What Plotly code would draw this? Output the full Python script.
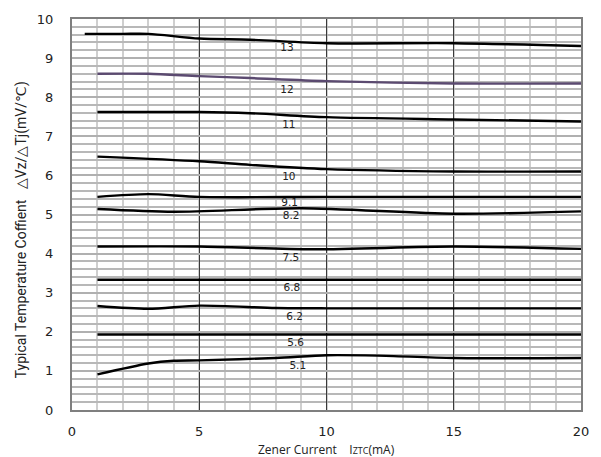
import plotly.graph_objects as go

# ---- data ----
series_names = ["13", "12", "11", "10", "9.1", "8.2", "7.5", "6.8", "6.2", "5.6", "5.1"]
x_13 = [0.5, 2, 3, 5, 7, 10, 15, 20]
y_13 = [9.62, 9.62, 9.62, 9.50, 9.47, 9.38, 9.38, 9.31]
x_12 = [1, 3, 5, 7, 10, 15, 20]
y_12 = [8.60, 8.60, 8.54, 8.49, 8.41, 8.35, 8.35]
x_11 = [1, 5, 7, 10, 15, 20]
y_11 = [7.62, 7.62, 7.59, 7.49, 7.43, 7.38]
x_10 = [1, 5, 7, 10, 15, 20]
y_10 = [6.48, 6.36, 6.27, 6.16, 6.10, 6.10]
x_91 = [1, 3, 5, 10, 15, 20]
y_91 = [5.45, 5.52, 5.45, 5.45, 5.45, 5.45]
x_82 = [1, 4, 9, 15, 20]
y_82 = [5.14, 5.07, 5.16, 5.02, 5.08]
x_75 = [1, 5, 9.5, 15, 20]
y_75 = [4.18, 4.18, 4.11, 4.18, 4.12]
x_68 = [1, 20]
y_68 = [3.33, 3.33]
x_62 = [1, 3, 5, 8, 10, 15, 20]
y_62 = [2.66, 2.59, 2.67, 2.61, 2.60, 2.60, 2.60]
x_56 = [1, 20]
y_56 = [1.93, 1.93]
x_51 = [1, 3, 4, 5, 8, 10, 12, 15, 20]
y_51 = [0.91, 1.19, 1.26, 1.27, 1.33, 1.40, 1.39, 1.33, 1.33]

label_x = [8.45, 8.45, 8.52, 8.52, 8.55, 8.61, 8.6, 8.64, 8.75, 8.79, 8.87]
label_y = [9.24, 8.17, 7.28, 5.96, 5.29, 4.95, 3.89, 3.10, 2.36, 1.70, 1.12]

x_ticks = [0, 5, 10, 15, 20]
y_ticks = [0, 1, 2, 3, 4, 5, 6, 7, 8, 9, 10]

xs = [x_13, x_12, x_11, x_10, x_91, x_82, x_75, x_68, x_62, x_56, x_51]
ys = [y_13, y_12, y_11, y_10, y_91, y_82, y_75, y_68, y_62, y_56, y_51]
colors = ["#000000", "#5b4a70"] + ["#000000"] * 9

fig = go.Figure()
for name, x, y, c in zip(series_names, xs, ys, colors):
    fig.add_trace(go.Scatter(x=x, y=y, mode="lines", name=name,
                             line=dict(color=c, width=2.4, shape="spline", smoothing=0.8),
                             showlegend=False, hoverinfo="skip"))

fig.add_trace(go.Scatter(x=label_x, y=label_y, mode="text", text=series_names,
                         textposition="middle center",
                         textfont=dict(family="DejaVu Sans", size=10.5, color="#222"),
                         showlegend=False, hoverinfo="skip"))

fig.update_layout(
    width=601, height=457,
    margin=dict(l=72, r=14, t=16, b=47),
    paper_bgcolor="white", plot_bgcolor="white",
    font=dict(family="DejaVu Sans", color="#222"),
    xaxis=dict(range=[0, 20], tickvals=x_ticks, showgrid=True,
               gridcolor="#3a3a3a", gridwidth=1.3,
               minor=dict(dtick=1, showgrid=True, gridcolor="#cfcfcf", gridwidth=2),
               showline=True, linecolor="#7f7f7f", linewidth=2, mirror=True,
               zeroline=False, ticks="", ticklabelstandoff=8,
               tickfont=dict(family="DejaVu Sans", size=13, color="#222")),
    yaxis=dict(range=[0, 10], tickvals=y_ticks, showgrid=True,
               gridcolor="#b0b0b0", gridwidth=1.5,
               minor=dict(dtick=0.2, showgrid=True, gridcolor="#b8b8b8", gridwidth=1.5),
               showline=True, linecolor="#7f7f7f", linewidth=2, mirror=True,
               zeroline=False, ticks="", ticklabelstandoff=14,
               tickfont=dict(family="DejaVu Sans", size=13, color="#222")),
)

fig.add_annotation(text="Zener Current &nbsp;&nbsp; I<span style='font-size:9px'>ZTC</span>(mA)",
                   xref="paper", yref="paper", x=0.5, y=-0.075, yanchor="top",
                   showarrow=False, font=dict(family="Open Sans", size=12, color="#222"))
fig.add_annotation(text="Typical Temperature Coffient &nbsp;&nbsp;△Vz/△Tj(mV/℃)",
                   xref="paper", yref="paper", x=-0.1, y=0.46, textangle=-90,
                   xanchor="center", yanchor="middle",
                   showarrow=False, font=dict(family="Liberation Sans Narrow, Roboto", size=14, color="#222"))

fig.write_html("out.html")
